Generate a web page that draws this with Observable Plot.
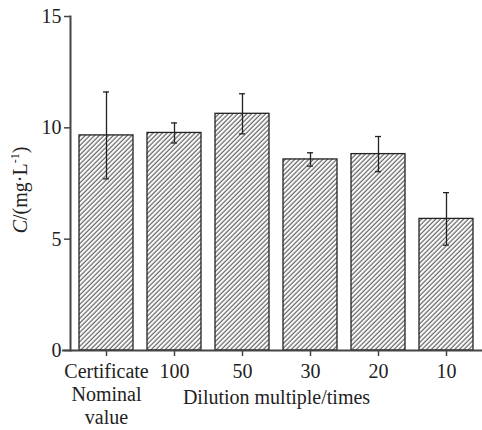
<!DOCTYPE html>
<html>
<head>
<meta charset="utf-8">
<script src="https://cdn.jsdelivr.net/npm/d3@7"></script>
<script src="https://cdn.jsdelivr.net/npm/@observablehq/plot@0.6"></script>
<style>
  html, body { margin: 0; padding: 0; background: #fff; }
  #chart { width: 482px; height: 430px; }
</style>
</head>
<body>
<div id="chart"></div>
<script>
const categories = ["Certificate\nNominal\nvalue", "100", "50", "30", "20", "10"];
const values = [9.66, 9.77, 10.63, 8.58, 8.82, 5.91];
const errors = [1.95, 0.45, 0.90, 0.30, 0.79, 1.18];
const yTicks = [0, 5, 10, 15];
const xTitle = "Dilution multiple/times";

const data = categories.map((c, i) => ({cat: c, v: values[i], lo: values[i] - errors[i], hi: values[i] + errors[i]}));

const ink = "#222";
const font = "Liberation Serif";
const svg = Plot.plot({
  width: 482,
  height: 430,
  marginLeft: 70,
  marginRight: 0,
  marginTop: 16,
  marginBottom: 80,
  style: {fontFamily: font, fontSize: "20px", color: ink, background: "#fff"},
  x: {domain: categories, paddingInner: 0.2, paddingOuter: 0.1},
  y: {domain: [0, 15]},
  marks: [
    Plot.barY(data, {x: "cat", y: "v", fill: "url(#hatch)", stroke: ink, strokeWidth: 1.3}),
    Plot.ruleX(data, {x: "cat", y1: "lo", y2: "hi", stroke: ink, strokeWidth: 1.3}),
    Plot.tickY(data, {x: "cat", y: "lo", stroke: ink, strokeWidth: 1.3, insetLeft: 24, insetRight: 24}),
    Plot.tickY(data, {x: "cat", y: "hi", stroke: ink, strokeWidth: 1.3, insetLeft: 24, insetRight: 24}),
    Plot.axisY({ticks: yTicks, tickSize: 6, tickPadding: 3, label: null, stroke: "#444", strokeWidth: 1.5, fill: ink, fontFamily: font, fontSize: 20}),
    Plot.axisX({tickSize: 6, tickPadding: 5, label: null, lineHeight: 1.16, stroke: "#444", strokeWidth: 1.5, fill: ink, fontFamily: font, fontSize: 20}),
    Plot.frame({anchor: "left", stroke: "#444", strokeWidth: 2}),
    Plot.ruleY([0], {stroke: "#444", strokeWidth: 2, insetLeft: -8}),
    Plot.text([xTitle], {frameAnchor: "bottom", dy: 47, lineAnchor: "middle", fill: ink, fontSize: 20, fontFamily: font})
  ]
});

const s = d3.select(svg);
const defs = s.insert("defs", ":first-child");
const pat = defs.append("pattern")
  .attr("id", "hatch")
  .attr("patternUnits", "userSpaceOnUse")
  .attr("width", 3.3)
  .attr("height", 10)
  .attr("patternTransform", "rotate(45)");
pat.append("rect").attr("width", 3.3).attr("height", 10).attr("fill", "#fff");
pat.append("line").attr("x1", 1).attr("x2", 1).attr("y1", 0).attr("y2", 10)
  .attr("stroke", "#555").attr("stroke-width", 1.1);

const yl = s.append("text")
  .attr("transform", "translate(27,190) rotate(-90)")
  .attr("text-anchor", "middle")
  .attr("font-family", font)
  .attr("font-size", 20)
  .attr("fill", ink);
yl.append("tspan").attr("font-style", "italic").text("C");
yl.append("tspan").text("/(mg·L");
yl.append("tspan").attr("font-size", 12).attr("dy", -8).text("-1");
yl.append("tspan").attr("dy", 8).text(")");

document.getElementById("chart").appendChild(svg);
</script>
</body>
</html>
